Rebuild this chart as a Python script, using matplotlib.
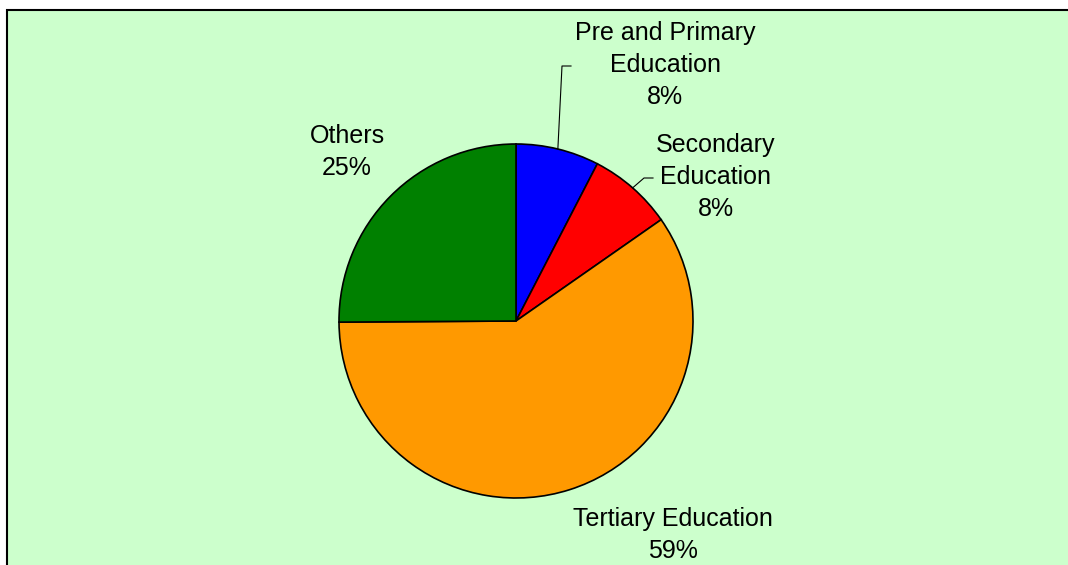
import numpy as np
import matplotlib
matplotlib.use('Agg')
import matplotlib.pyplot as plt
from matplotlib.patches import Rectangle

categories = ['Pre and Primary\nEducation', 'Secondary\nEducation', 'Tertiary Education', 'Others']
shares = [7.6, 7.7, 59.6, 25.1]
pct_labels = ['8%', '8%', '59%', '25%']
colors = ['#0000FF', '#FF0000', '#FF9900', '#008000']

plt.rcParams['font.family'] = ['Liberation Sans', 'DejaVu Sans']

W, H = 1068, 565
fig = plt.figure(figsize=(W / 100, H / 100), dpi=100, facecolor='white')
ax = fig.add_axes([0, 0, 1, 1])

# chart area (cropped on right and bottom, so only top/left borders show)
x0, ytop = 7, H - 10
ax.add_patch(Rectangle((x0, -20), W + 60, ytop + 20, facecolor='#CCFFCC',
                       edgecolor='none', zorder=0, clip_on=False))
ax.plot([x0, x0, W + 10], [-10, ytop, ytop], color='black', linewidth=1.5,
        solid_joinstyle='miter', zorder=0.5, clip_on=False)

cx, cy, r = 516, H - 321, 177
wedges, _ = ax.pie(shares, colors=colors, startangle=90, counterclock=False,
                   center=(cx, cy), radius=r,
                   wedgeprops=dict(edgecolor='black', linewidth=1.2))

def edge_point(w):
    a = np.deg2rad((w.theta1 + w.theta2) / 2)
    return cx + r * np.cos(a), cy + r * np.sin(a)

labels = ['%s\n%s' % (c, p) for c, p in zip(categories, pct_labels)]
label_pos = [(665, H - 65), (716, H - 177), (673, H - 535), (347, H - 152)]
for lab, (tx, ty) in zip(labels, label_pos):
    ax.text(tx, ty, lab, ha='center', va='center', fontsize=18,
            linespacing=1.4, color='black')

# leader lines for the two small slices
elbows = [((562, H - 66), (571, H - 66)), ((644, H - 178), (653, H - 178))]
for w, (e1, e2) in zip(wedges[:2], elbows):
    px, py = edge_point(w)
    ax.plot([px, e1[0], e2[0]], [py, e1[1], e2[1]], color='black', linewidth=0.8)

ax.set_xlim(0, W)
ax.set_ylim(0, H)
ax.set_aspect('auto')
ax.axis('off')

fig.savefig('out.png', dpi=100, facecolor='white')
